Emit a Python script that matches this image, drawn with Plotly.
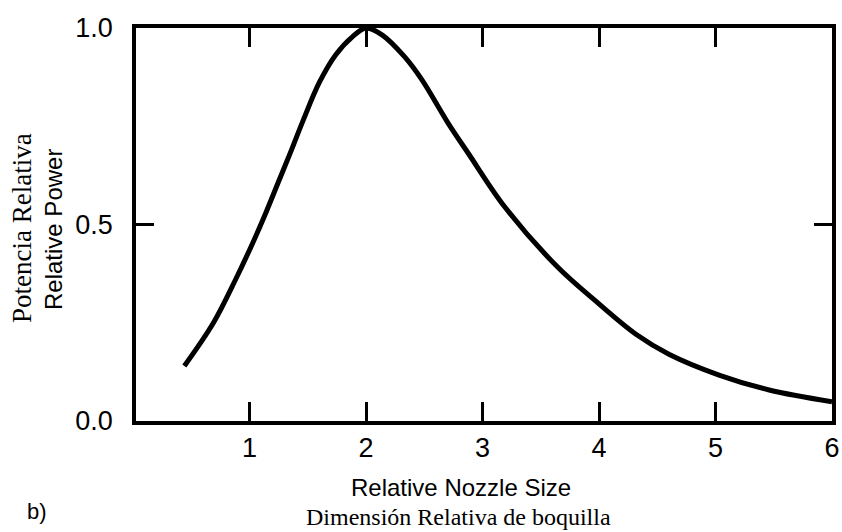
import plotly.graph_objects as go

# Relative power vs. relative nozzle size
nozzle_size = [0.44, 0.69, 0.88, 1.03, 1.14, 1.25, 1.36, 1.46, 1.60, 1.74, 1.88, 2.0,
               2.14, 2.33, 2.48, 2.70, 2.88, 3.19, 3.64, 3.96, 4.32, 4.60, 5.03, 5.46, 6.0]
rel_power = [0.14, 0.25, 0.36, 0.455, 0.53, 0.61, 0.69, 0.765, 0.862, 0.932, 0.977, 1.0,
             0.982, 0.927, 0.868, 0.76, 0.68, 0.545, 0.393, 0.308, 0.22, 0.17, 0.117, 0.079, 0.049]

x_ticks = [1, 2, 3, 4, 5, 6]
x_tick_text = ["1", "2", "3", "4", "5", "6"]
y_ticks = [0.0, 0.5, 1.0]
y_tick_text = ["0.0", "0.5", "1.0"]

W, H = 842, 532
L, R, T, B = 136, 10, 28, 111
PW, PH = W - L - R, H - T - B


def px(xp):
    return (xp - L) / PW


def py(yp):
    return (H - B - yp) / PH


SANS = "Liberation Sans, Arial, sans-serif"
SERIF = "Liberation Serif, Times New Roman, serif"

fig = go.Figure()
fig.add_trace(go.Scatter(
    x=nozzle_size, y=rel_power, mode="lines",
    line=dict(color="black", width=5, shape="spline", smoothing=1.0),
    showlegend=False, hoverinfo="skip",
))

axis_common = dict(
    showline=True, linecolor="black", linewidth=3.5, mirror="allticks",
    ticks="inside", tickcolor="black", tickwidth=3,
    showgrid=False, zeroline=False, ticklabeloverflow="allow",
    tickfont=dict(family=SANS, size=27, color="black"),
)

fig.update_xaxes(range=[0.025, 6.0], tickvals=x_ticks, ticktext=x_tick_text,
                 ticklen=19, ticklabelstandoff=0, **axis_common)
fig.update_yaxes(range=[0.0, 1.0], tickvals=y_ticks, ticktext=y_tick_text,
                 ticklen=18, ticklabelstandoff=14, **axis_common)

annotations = [
    dict(text="Relative Nozzle Size", x=px(461), y=py(487),
         font=dict(family=SANS, size=24, color="black")),
    dict(text="Dimensión Relativa de boquilla", x=px(458), y=py(517),
         font=dict(family=SERIF, size=24, color="black")),
    dict(text="b)", x=px(37), y=py(511),
         font=dict(family=SANS, size=22, color="black")),
    dict(text="Potencia Relativa", x=px(22), y=py(228), textangle=-90,
         font=dict(family=SERIF, size=27, color="black")),
    dict(text="Relative Power", x=px(53), y=py(230), textangle=-90,
         font=dict(family=SANS, size=24, color="black")),
]
for a in annotations:
    a.update(xref="paper", yref="paper", xanchor="center", yanchor="middle",
             showarrow=False)

fig.update_layout(
    width=W, height=H,
    margin=dict(l=L, r=R, t=T, b=B, autoexpand=False),
    paper_bgcolor="white", plot_bgcolor="white",
    annotations=annotations,
)

fig.write_html("out.html")
